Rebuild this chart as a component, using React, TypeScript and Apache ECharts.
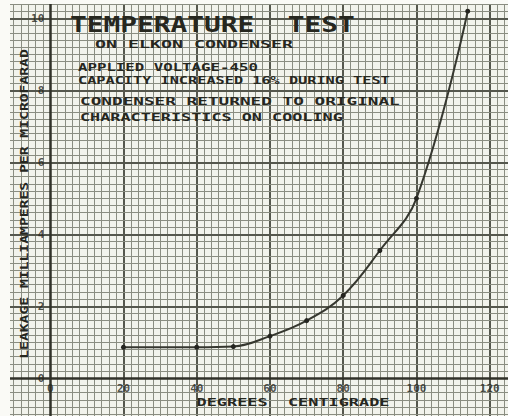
import React, { useEffect, useRef } from "react";
import * as echarts from "echarts";

const temperatures = [20, 40, 50, 60, 70, 80, 90, 100, 114];
const leakage = [0.86, 0.86, 0.88, 1.17, 1.6, 2.3, 3.55, 5.0, 10.2];
const xTickLabels = [0, 20, 40, 60, 80, 100, 120];
const yTickLabels = [0, 2, 4, 6, 8, 10];

const titleText = "TEMPERATURE  TEST";
const noteLines = [
  "ON ELKON CONDENSER",
  "APPLIED VOLTAGE-450",
  "CAPACITY INCREASED 16% DURING TEST",
  "CONDENSER RETURNED TO ORIGINAL",
  "CHARACTERISTICS ON COOLING",
];
const xTitle = "DEGREES  CENTIGRADE";
const yTitle = "LEAKAGE MILLIAMPERES PER MICROFARAD";

const X_MIN = -11, X_MAX = 125, Y_MIN = -1.05, Y_MAX = 10.4;
const INK = "#26271f";
const FONT = '"DejaVu Sans Mono"';

function stencil(text: string, x: number, y: number, size: number, width: number, align: string, rotation = 0) {
  const natural = text.length * 0.602 * size;
  return {
    type: "text",
    x, y, rotation,
    scaleX: width / natural,
    silent: true,
    z: 20,
    style: {
      text,
      font: `bold ${size}px ${FONT}`,
      fill: INK,
      textAlign: align,
      textVerticalAlign: "middle",
    },
  };
}

export default function App() {
  const ref = useRef<HTMLDivElement>(null);
  useEffect(() => {
    if (!ref.current) return;
    const chart = echarts.init(ref.current, null, { renderer: "svg" });

    const minorStyle = { color: "#8a8d81", width: 1, type: "solid" };
    const majorStyle = { color: "#55574d", width: 2, type: "solid" };
    const axisStyle = { color: "#303129", width: 2.5, type: "solid" };

    const gridLines: any[] = [];
    for (let k = -5; k <= 62; k++) {
      const v = k * 2;
      if (v === 0) continue;
      gridLines.push({ xAxis: v, lineStyle: v % 20 === 0 ? majorStyle : minorStyle });
    }
    for (let k = -5; k <= 52; k++) {
      if (k === 0) continue;
      const v = k / 5;
      gridLines.push({ yAxis: v, lineStyle: k % 10 === 0 ? majorStyle : minorStyle });
    }
    const axisLines = [{ xAxis: 0, lineStyle: axisStyle }, { yAxis: 0, lineStyle: axisStyle }];

    const notePos = [
      [95, 44.5, 198],
      [78, 67, 180],
      [78, 80, 312],
      [80, 101, 320],
      [80, 117, 263],
    ];

    const labelStyle = { color: INK, fontFamily: FONT, fontWeight: "bold", fontSize: 11, textBorderWidth: 0 };

    chart.setOption({
      animation: false,
      backgroundColor: "#fafaf6",
      grid: {
        left: 10, right: 0, top: 4, bottom: 0,
        containLabel: false, outerBoundsMode: "none",
        show: true, backgroundColor: "#f2f3ec", borderWidth: 0,
      },
      xAxis: {
        type: "value", min: X_MIN, max: X_MAX,
        axisLine: { show: false }, axisTick: { show: false },
        splitLine: { show: false }, axisLabel: { show: false },
      },
      yAxis: {
        type: "value", min: Y_MIN, max: Y_MAX,
        axisLine: { show: false }, axisTick: { show: false },
        splitLine: { show: false }, axisLabel: { show: false },
      },
      series: [
        {
          type: "line",
          data: [],
          silent: true,
          z: 1,
          markLine: { silent: true, symbol: "none", label: { show: false }, data: gridLines, animation: false },
        },
        {
          type: "line",
          data: [],
          silent: true,
          z: 2,
          markLine: { silent: true, symbol: "none", label: { show: false }, data: axisLines, animation: false },
        },
        {
          type: "scatter",
          silent: true,
          z: 10,
          symbolSize: 0,
          data: xTickLabels.map((v) => [v, 0]),
          label: { show: true, position: "bottom", distance: 5, formatter: (p: any) => String(p.value[0]), ...labelStyle },
        },
        {
          type: "scatter",
          silent: true,
          z: 10,
          symbolSize: 0,
          data: yTickLabels.map((v) => [0, v]),
          label: { show: true, position: "left", distance: 6, formatter: (p: any) => String(p.value[1]), ...labelStyle },
        },
        {
          type: "line",
          z: 5,
          data: temperatures.map((t, i) => [t, leakage[i]]),
          smooth: 0.4,
          symbol: "circle",
          symbolSize: 5,
          itemStyle: { color: "#24241f" },
          lineStyle: { color: "#36372f", width: 2 },
        },
      ],
      graphic: [
        stencil(titleText, 70, 25, 22, 285, "left"),
        ...noteLines.map((t, i) => stencil(t, notePos[i][0], notePos[i][1], 11, notePos[i][2], "left")),
        stencil(xTitle, 293, 402, 10, 193, "center"),
        stencil(yTitle, 24, 204, 10, 310, "center", Math.PI / 2),
      ],
    });
    return () => chart.dispose();
  }, []);
  return <div ref={ref} style={{ position: "fixed", left: 0, top: 0, width: 508, height: 416 }} />;
}
